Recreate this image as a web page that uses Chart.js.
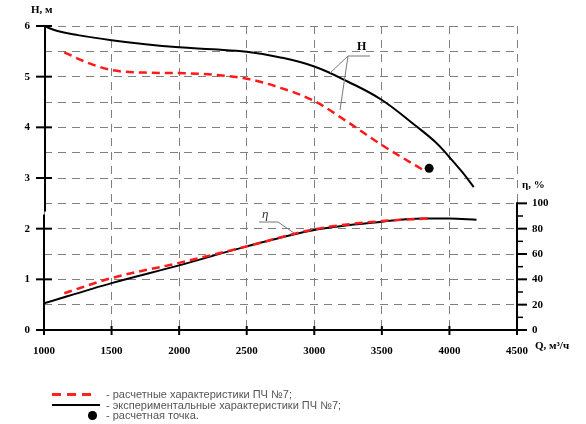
<!DOCTYPE html>
<html>
<head>
<meta charset="utf-8">
<script src="https://cdn.jsdelivr.net/npm/chart.js@4/dist/chart.umd.min.js"></script>
<style>
  body { margin: 0; background: #fff; }
  #wrap { position: relative; width: 586px; height: 424px; }
  #legend { position: absolute; left: 52px; top: 389px; font: 11px "Liberation Sans", Arial, sans-serif; color: #555; }
  #legend .row { position: relative; height: 10.5px; line-height: 10.5px; padding-left: 54px; white-space: nowrap; }
  #legend .key { position: absolute; }
  #legend .dash { left: 0; top: 4px; width: 41px; height: 2.5px;
    background: repeating-linear-gradient(90deg, #ff2020 0 9px, transparent 9px 15px); }
  #legend .solid { left: 0; top: 4px; width: 48px; height: 2px; background: #000; }
  #legend .dot { left: 36px; top: 1px; width: 8.5px; height: 8.5px; border-radius: 50%; background: #000; }
</style>
</head>
<body>
<div id="wrap">
  <canvas id="pumpChart"></canvas>
  <div id="legend">
    <div class="row"><span class="key dash"></span>- расчетные характеристики ПЧ №7;</div>
    <div class="row"><span class="key solid"></span>- экспериментальные характеристики ПЧ №7;</div>
    <div class="row"><span class="key dot"></span>- расчетная точка.</div>
  </div>
</div>
<script>
  // head, m (experimental)
  const qHeadExp = [1000, 1100, 1250, 1500, 1750, 2000, 2250, 2500, 2750, 3000, 3250, 3500, 3750, 3900, 4000, 4100, 4180];
  const headExp  = [6.0, 5.9, 5.82, 5.72, 5.64, 5.58, 5.54, 5.49, 5.38, 5.2, 4.9, 4.54, 4.03, 3.7, 3.41, 3.1, 2.82];

  // head, m (calculated)
  const qHeadCalc = [1150, 1300, 1500, 1750, 2000, 2250, 2500, 2750, 3000, 3250, 3500, 3830];
  const headCalc  = [5.48, 5.3, 5.13, 5.08, 5.07, 5.04, 4.96, 4.78, 4.52, 4.1, 3.65, 3.12];

  // efficiency, %
  const qEffExp  = [1000, 1500, 2000, 2500, 3000, 3500, 3800, 4000, 4200];
  const effExp   = [21, 37, 51, 66, 79, 85.5, 88, 88, 87];
  const qEffCalc = [1150, 1500, 2000, 2500, 3000, 3500, 3850];
  const effCalc  = [29, 41, 53, 66, 79.5, 86, 88];

  // design point
  const designQ = [3850];
  const designH = [3.19];

  const qTicks = [1000, 1500, 2000, 2500, 3000, 3500, 4000, 4500];
  const hTicks = [0, 1, 2, 3, 4, 5, 6];
  const effTicks = [0, 20, 40, 60, 80, 100];

  const pts = (xs, ys) => xs.map((x, i) => ({ x: x, y: ys[i] }));

  const labelFont = { family: 'Liberation Serif', weight: 'bold', size: 11 };
  const gridGray = '#808080';

  const axesDecor = {
    id: 'axesDecor',
    afterDraw(chart) {
      const ctx = chart.ctx;
      const x = chart.scales.x, y = chart.scales.y, y2 = chart.scales.y2;
      const left = x.getPixelForValue(1000), right = x.getPixelForValue(4500);
      const bottom = y.getPixelForValue(0);
      ctx.save();
      ctx.strokeStyle = '#000';
      ctx.lineWidth = 2;
      ctx.lineCap = 'butt';

      // H axis with a small break
      ctx.beginPath();
      ctx.moveTo(left, bottom + 1);
      ctx.lineTo(left, y.getPixelForValue(2.28));
      ctx.moveTo(left + 1, y.getPixelForValue(2.34));
      ctx.lineTo(left + 1, y.getPixelForValue(6));
      ctx.stroke();
      hTicks.forEach(v => {
        const py = y.getPixelForValue(v);
        ctx.beginPath();
        ctx.moveTo(left - 8, py);
        ctx.lineTo(left + 8, py);
        ctx.stroke();
      });

      // Q axis
      ctx.beginPath();
      ctx.moveTo(left, bottom);
      ctx.lineTo(right, bottom);
      ctx.stroke();
      qTicks.forEach(v => {
        const px = x.getPixelForValue(v);
        ctx.beginPath();
        ctx.moveTo(px, bottom - 4);
        ctx.lineTo(px, bottom + 5);
        ctx.stroke();
      });

      // efficiency axis, 0..100 only
      ctx.beginPath();
      ctx.moveTo(right, y2.getPixelForValue(0) + 1);
      ctx.lineTo(right, y2.getPixelForValue(100) - 1);
      ctx.stroke();
      for (let v = 0; v <= 100; v += 10) {
        const py = y2.getPixelForValue(v);
        ctx.lineWidth = v % 20 === 0 ? 2 : 1.5;
        ctx.beginPath();
        ctx.moveTo(right, py);
        ctx.lineTo(right + (v % 20 === 0 ? 10 : 6), py);
        ctx.stroke();
      }

      // axis titles
      ctx.fillStyle = '#000';
      ctx.font = 'bold 11px "Liberation Serif"';
      ctx.textBaseline = 'middle';
      ctx.textAlign = 'left';
      ctx.fillText('H, м', 31, 10);
      ctx.fillText('η, %', right + 5, y2.getPixelForValue(100) - 18);
      ctx.fillText('Q, м³/ч', right + 18, bottom + 16);

      // curve labels with leaders
      ctx.strokeStyle = '#777';
      ctx.lineWidth = 1;
      ctx.beginPath();
      ctx.moveTo(370, 56);
      ctx.lineTo(348, 56);
      ctx.lineTo(330, 73);
      ctx.moveTo(348, 56);
      ctx.lineTo(340, 110);
      ctx.stroke();
      ctx.font = 'bold 12px "Liberation Serif"';
      ctx.fillText('H', 357, 47);

      ctx.beginPath();
      ctx.moveTo(259, 222);
      ctx.lineTo(278, 222);
      ctx.lineTo(294, 233);
      ctx.stroke();
      ctx.font = 'italic 13px "Liberation Serif"';
      ctx.fillStyle = '#333';
      ctx.fillText('η', 262, 215);
      ctx.restore();
    }
  };

  const ctx = document.getElementById('pumpChart').getContext('2d');
  new Chart(ctx, {
    type: 'line',
    data: {
      datasets: [
        {
          data: pts(designQ, designH), yAxisID: 'y', showLine: false,
          pointRadius: 4.5, pointBackgroundColor: '#000', pointBorderColor: '#000', pointBorderWidth: 0
        },
        {
          data: pts(qEffCalc, effCalc), yAxisID: 'y2', borderColor: '#ff1a1a', borderWidth: 2.5,
          borderDash: [8, 5], pointRadius: 0, cubicInterpolationMode: 'monotone'
        },
        {
          data: pts(qHeadCalc, headCalc), yAxisID: 'y', borderColor: '#ff1a1a', borderWidth: 2.5,
          borderDash: [8, 5], pointRadius: 0, cubicInterpolationMode: 'monotone'
        },
        {
          data: pts(qEffExp, effExp), yAxisID: 'y2', borderColor: '#000', borderWidth: 2,
          pointRadius: 0, cubicInterpolationMode: 'monotone'
        },
        {
          data: pts(qHeadExp, headExp), yAxisID: 'y', borderColor: '#000', borderWidth: 2,
          pointRadius: 0, tension: 0.4
        }
      ]
    },
    options: {
      responsive: true,
      maintainAspectRatio: false,
      animation: false,
      events: [],
      layout: { padding: { top: 26, bottom: 64, left: 0, right: 0 } },
      plugins: { legend: { display: false }, tooltip: { enabled: false } },
      scales: {
        x: {
          type: 'linear', min: 1000, max: 4500,
          afterBuildTicks: s => { s.ticks = qTicks.map(v => ({ value: v })); },
          ticks: { font: labelFont, color: '#000', padding: 15, maxRotation: 0, callback: v => String(v) },
          grid: { color: gridGray, lineWidth: 1, drawTicks: false },
          border: { display: false, dash: [8, 6] },
          afterFit: s => { s.height = 30; }
        },
        y: {
          min: 0, max: 6,
          ticks: {
            stepSize: 0.5, autoSkip: false, font: labelFont, color: '#000', padding: 14,
            callback: v => (hTicks.includes(v) ? String(v) : '')
          },
          grid: { color: gridGray, lineWidth: 1, drawTicks: false },
          border: { display: false, dash: [8, 6] },
          afterFit: s => { s.width = 44; }
        },
        y2: {
          position: 'right', min: 0, max: 240,
          ticks: {
            stepSize: 20, autoSkip: false, font: labelFont, color: '#000', padding: 15,
            callback: v => (effTicks.includes(v) ? String(v) : '')
          },
          grid: { display: false, drawTicks: false },
          border: { display: false },
          afterFit: s => { s.width = 69; }
        }
      }
    },
    plugins: [axesDecor]
  });
</script>
</body>
</html>
